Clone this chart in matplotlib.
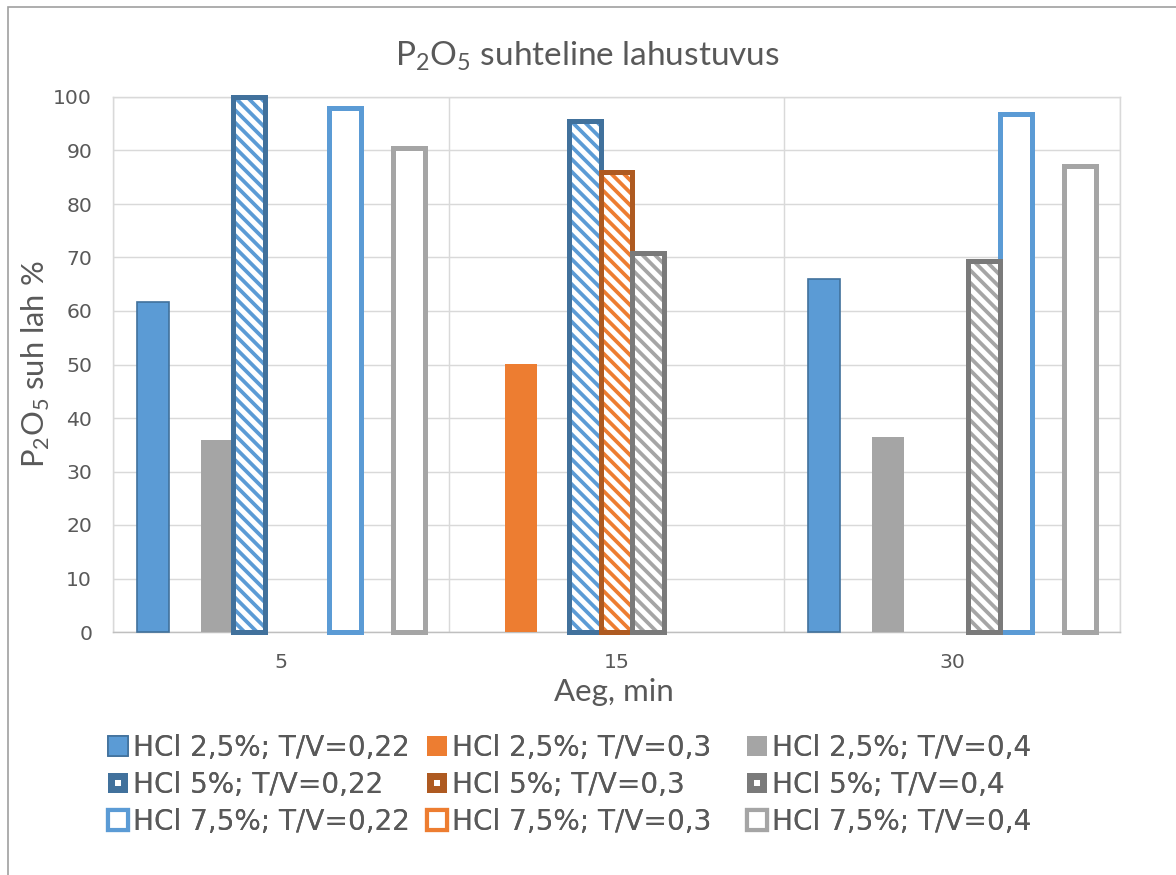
import numpy as np
import matplotlib
matplotlib.use("Agg")
import matplotlib.pyplot as plt
from matplotlib.patches import Patch, Rectangle
from matplotlib.lines import Line2D

# ---- data -------------------------------------------------------------
categories = ["5", "15", "30"]

series_labels = [
    "HCl 2,5%; T/V=0,22", "HCl 2,5%; T/V=0,3", "HCl 2,5%; T/V=0,4",
    "HCl 5%; T/V=0,22", "HCl 5%; T/V=0,3", "HCl 5%; T/V=0,4",
    "HCl 7,5%; T/V=0,22", "HCl 7,5%; T/V=0,3", "HCl 7,5%; T/V=0,4",
]

hcl25_tv022 = [61.7, None, 66.0]
hcl25_tv03 = [None, 50.1, None]
hcl25_tv04 = [35.9, None, 36.4]
hcl5_tv022 = [100.0, 95.5, None]
hcl5_tv03 = [None, 85.9, None]
hcl5_tv04 = [None, 70.8, 69.3]
hcl75_tv022 = [97.9, None, 96.8]
hcl75_tv03 = [None, None, None]
hcl75_tv04 = [90.4, None, 87.1]

series_values = [hcl25_tv022, hcl25_tv03, hcl25_tv04,
                 hcl5_tv022, hcl5_tv03, hcl5_tv04,
                 hcl75_tv022, hcl75_tv03, hcl75_tv04]

y_ticks = [0, 10, 20, 30, 40, 50, 60, 70, 80, 90, 100]

# ---- styling ------------------------------------------------------------
W, H, DPI = 1176, 875, 150
plt.rcParams["hatch.linewidth"] = 1.8
TXT = "#595959"
LIGHT = ["#5B9BD5", "#ED7D31", "#A5A5A5"]
DARK = ["#41719C", "#AE5A21", "#7A7A7A"]
GRID = "#D9D9D9"
LABEL_FONT = ["Lato", "DejaVu Sans"]
TICK_FONT = ["DejaVu Sans"]

fig = plt.figure(figsize=(W / DPI, H / DPI), dpi=DPI)
ax = fig.add_axes([113 / W, 1 - 632 / H, (1120 - 113) / W, (632 - 97) / H])

n_series = len(series_values)
gap = 1.5
bw = 1.0 / (n_series + gap)
x = np.arange(len(categories))
EDGE_W = 2.4
HATCH = "\\\\\\\\"


def kind_of(i):
    return i // 3, i % 3  # (0 solid / 1 hatched / 2 outline, colour index)


for i, vals in enumerate(series_values):
    kind, c = kind_of(i)
    pos = [x[k] + (i - (n_series - 1) / 2) * bw for k, v in enumerate(vals) if v is not None]
    hts = [v for v in vals if v is not None]
    if not hts:
        continue
    if kind == 0:
        ec = DARK[0] if c == 0 else LIGHT[c]
        ax.bar(pos, hts, width=bw, color=LIGHT[c], edgecolor=ec,
               linewidth=0.8 if c == 0 else 0.0, zorder=3, clip_on=False)
    elif kind == 1:
        ax.bar(pos, hts, width=bw, facecolor="white", edgecolor=LIGHT[c],
               linewidth=0, hatch=HATCH, zorder=3, clip_on=False)
        ax.bar(pos, hts, width=bw, fill=False, edgecolor=DARK[c],
               linewidth=EDGE_W, zorder=4, clip_on=False)
    else:
        ax.bar(pos, hts, width=bw, facecolor="white", edgecolor=LIGHT[c],
               linewidth=EDGE_W, zorder=3, clip_on=False)

ax.set_xlim(-0.5, len(categories) - 0.5)
ax.set_ylim(0, 100)
ax.set_yticks(y_ticks)
ax.set_xticks(x)
ax.set_xticklabels(categories)
ax.set_xticks(np.arange(len(categories) + 1) - 0.5, minor=True)
ax.grid(axis="y", color=GRID, linewidth=0.7, zorder=0)
ax.grid(axis="x", which="minor", color=GRID, linewidth=0.7, zorder=0)
ax.tick_params(axis="both", which="both", length=0, labelcolor=TXT, labelsize=9.8)
ax.tick_params(axis="y", pad=10)
ax.tick_params(axis="x", pad=10)
for lab in ax.get_xticklabels() + ax.get_yticklabels():
    lab.set_family(TICK_FONT)
for side in ["left", "right", "top"]:
    ax.spines[side].set_color(GRID)
    ax.spines[side].set_linewidth(0.7)
ax.spines["bottom"].set_color("#BFBFBF")
ax.spines["bottom"].set_linewidth(0.7)

# titles
fig.text(587 / W, 1 - 56 / H,
         r"P$_\mathregular{2}$O$_\mathregular{5}$ suhteline lahustuvus",
         ha="center", va="center", fontsize=16, color=TXT, family=LABEL_FONT)
fig.text(614 / W, 1 - 692 / H, "Aeg, min", ha="center", va="center",
         fontsize=15, color=TXT, family=LABEL_FONT)
fig.text(36 / W, 1 - 364 / H,
         r"P$_\mathregular{2}$O$_\mathregular{5}$ suh lah %",
         ha="center", va="center", rotation=90, fontsize=14.8, color=TXT,
         family=LABEL_FONT)

# legend: one block per column, rows ordered by HCl concentration
def legend_handle(i):
    kind, c = kind_of(i)
    if kind == 0:
        ec = DARK[0] if c == 0 else LIGHT[c]
        return Patch(facecolor=LIGHT[c], edgecolor=ec, linewidth=0.8 if c == 0 else 0)
    if kind == 1:
        return (Patch(facecolor=DARK[c], edgecolor=DARK[c], linewidth=0),
                Line2D([], [], marker="s", markersize=3.2, color="white",
                       markeredgewidth=0, linestyle="none"))
    return Patch(facecolor="white", edgecolor=LIGHT[c], linewidth=2.0)


col_x = [108, 427, 747]
for c in range(3):
    idx = [c, c + 3, c + 6]
    leg = fig.legend([legend_handle(i) for i in idx], [series_labels[i] for i in idx],
                     loc="upper left", bbox_to_anchor=(col_x[c] / W, 1 - 734 / H),
                     frameon=False, labelcolor=TXT, ncol=1,
                     handlelength=0.7, handleheight=0.7, handletextpad=0.2,
                     labelspacing=0.32, borderpad=0, borderaxespad=0,
                     prop={"family": TICK_FONT, "size": 13.4})
    fig.add_artist(leg)

# outer chart frame
fig.add_artist(Rectangle((8 / W, -0.05), 1.2, 1 - 7 / H + 0.05, transform=fig.transFigure,
                         fill=False, edgecolor="#A0A0A0", linewidth=0.8))

fig.savefig("out.png", dpi=DPI, facecolor="white")
